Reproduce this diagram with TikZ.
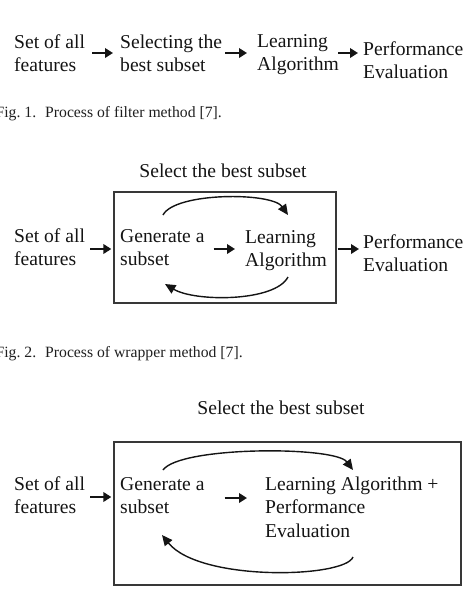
\documentclass[tikz,border=0pt]{standalone}
\usepackage{fontspec}
\setmainfont{Liberation Serif}
\usetikzlibrary{arrows.meta,calc}
\newcommand{\mainsz}{\fontsize{19.6pt}{23.2pt}\selectfont}
\newcommand{\capsz}{\fontsize{15.7pt}{18pt}\selectfont}
\begin{document}
\begin{tikzpicture}[x=1pt,y=-1pt,
  lbl/.style={inner sep=0pt, align=left, font=\mainsz, anchor=base west, text=black!92},
  capt/.style={inner sep=0pt, font=\capsz, anchor=base west, text=black!88},
  arr/.style={line width=2.2pt, black!92, -{Triangle[length=8pt,width=9.5pt]}},
  curv/.style={line width=1.4pt, black!92, -{Triangle[length=10.5pt,width=9.5pt]}},
  frame/.style={draw=black!78, line width=1.3pt, inner sep=0pt}]
\useasboundingbox (0,0) rectangle (473,595);
% ---------- Fig. 1
\node[lbl] (s1) at (14,71.2) {Set of all\\features};
\node[lbl] (sel) at (120,71.2) {Selecting the\\best subset};
\node[lbl] (learn1) at (257,70.2) {Learning\\Algorithm};
\node[lbl] (perf1) at (363,78.2) {Performance\\Evaluation};
\coordinate (r1) at (0,53);
\draw[arr] ([xshift=7pt]s1.east |- r1) -- ([xshift=-7pt]sel.west |- r1);
\draw[arr] ([xshift=3pt]sel.east |- r1) -- ([xshift=-10pt]learn1.west |- r1);
\draw[arr] ([xshift=-1pt]learn1.east |- r1) -- ([xshift=-5pt]perf1.west |- r1);
\node[capt] (cap1) at (45,117) {\llap{Fig.~1.\hspace{9pt}}Process of filter method [7].};
% ---------- Fig. 2
\node[lbl, anchor=base] (title2) at (223,177) {Select the best subset};
\node[frame, minimum width=222pt, minimum height=111pt] (box2) at (225,247.5) {};
\node[lbl] (s2) at (14,265.2) {Set of all\\features};
\node[lbl] (gen2) at (120,265.2) {Generate a\\subset};
\node[lbl] (learn2) at (245,266.2) {Learning\\Algorithm};
\node[lbl] (perf2) at (363,271.2) {Performance\\Evaluation};
\coordinate (r2) at (0,249);
\draw[arr] ([xshift=5pt]s2.east |- r2) -- ([xshift=-2pt]box2.west |- r2);
\draw[arr] ([xshift=9pt]gen2.east |- r2) -- ([xshift=-10pt]learn2.west |- r2);
\draw[arr] ([xshift=1pt]box2.east |- r2) -- ([xshift=-4pt]perf2.west |- r2);
\coordinate (t2a) at (163,215);
\coordinate (t2b) at (288,215);
\coordinate (b2a) at (288,277);
\coordinate (b2b) at (165,284);
\draw[curv] (t2a) .. controls (175,192) and (272,192) .. (t2b);
\draw[curv] (b2a) .. controls (275,302) and (195,302) .. (b2b);
\node[capt] (cap2) at (45,357) {\llap{Fig.~2.\hspace{9pt}}Process of wrapper method [7].};
% ---------- Fig. 3
\node[lbl, anchor=base] (title3) at (281,414) {Select the best subset};
\node[frame, minimum width=347pt, minimum height=143pt] (box3) at (287.5,513.5) {};
\node[lbl] (s3) at (14,513.5) {Set of all\\features};
\node[lbl] (gen3) at (120,513.5) {Generate a\\subset};
\node[lbl, font=\fontsize{19.6pt}{23.5pt}\selectfont] (learn3) at (265,537) {Learning Algorithm +\\Performance\\Evaluation};
\coordinate (r3) at (0,497);
\coordinate (r3b) at (0,498);
\draw[arr] ([xshift=5pt]s3.east |- r3) -- ([xshift=-2pt]box3.west |- r3);
\draw[arr] ([xshift=20pt]gen3.east |- r3b) -- ([xshift=-18pt]learn3.west |- r3b);
\coordinate (t3a) at (163,470);
\coordinate (t3b) at (353,470);
\coordinate (b3a) at (353,557);
\coordinate (b3b) at (162,535);
\draw[curv] (t3a) .. controls (180,446) and (335,446) .. (t3b);
\draw[curv] (b3a) .. controls (345,578) and (200,582) .. (b3b);
\end{tikzpicture}
\end{document}
